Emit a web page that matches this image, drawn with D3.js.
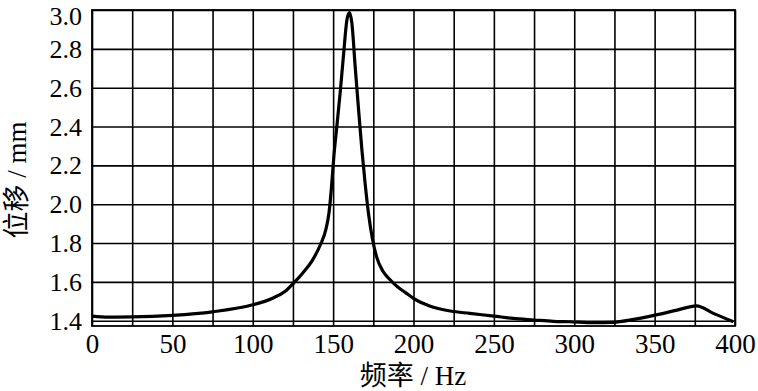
<!DOCTYPE html>
<html>
<head>
    <meta charset="utf-8">
    <script src="https://d3js.org/d3.v7.min.js"></script>
    <style>
        body { margin: 0; background: #fff; }
    </style>
</head>
<body>
    <svg width="758" height="391" id="mainSvg"></svg>
    <script>
        // frequency (Hz) and displacement (mm)
        const freq = [0, 10, 25, 50, 75, 100, 112, 120, 125, 131, 137, 142, 145.5, 147.5, 149, 150.5, 152.3, 154.4, 156.4, 158.6, 160.2,
            161.7, 163.7, 165.8, 167.9, 169.9, 172, 174.5, 177, 181, 185, 190, 195, 200, 210, 223, 235, 250, 262, 275, 287, 297,
            312, 324, 337, 351, 364, 376, 386.5, 399];
        const disp = [1.424, 1.419, 1.42, 1.428, 1.446, 1.482, 1.515, 1.55, 1.59, 1.645, 1.71, 1.79, 1.87, 1.96, 2.09, 2.25, 2.40, 2.576, 2.762, 2.95, 2.986,
            2.93, 2.71, 2.49, 2.28, 2.107, 1.952, 1.82, 1.73, 1.655, 1.615, 1.575, 1.545, 1.515, 1.476, 1.45, 1.438, 1.424, 1.412, 1.404, 1.397, 1.395,
            1.39, 1.392, 1.407, 1.43, 1.455, 1.477, 1.438, 1.395];
        const xTicks = d3.range(0, 401, 25);
        const yTicks = [1.4, 1.6, 1.8, 2.0, 2.2, 2.4, 2.6, 2.8, 3.0];

        const font = "Liberation Serif, DejaVu Serif, Noto Sans CJK SC, serif";
        const svg = d3.select("#mainSvg").style("font-family", font);
        const m = { left: 92, right: 735, top: 10, bottom: 326 };

        const x = d3.scaleLinear().domain([0, 400]).range([m.left, m.right]);
        const y = d3.scaleLinear().domain([1.373, 3.0]).range([m.bottom, m.top]);

        // vertical grid + x labels
        const xAxis = svg.append("g")
            .attr("transform", `translate(0, ${m.bottom})`)
            .call(d3.axisBottom(x).tickValues(xTicks).tickSize(-(m.bottom - m.top))
                .tickFormat(d => d % 50 === 0 ? d : ""));
        xAxis.attr("font-family", null);
        xAxis.select(".domain").remove();
        xAxis.selectAll("line").attr("stroke", "#000").attr("stroke-width", 1.6);
        xAxis.selectAll("text").style("font-family", font).attr("font-size", 27).attr("y", 27).attr("dy", 0).attr("fill", "#000");

        // horizontal grid + y labels
        const yAxis = svg.append("g")
            .attr("transform", `translate(${m.left}, 0)`)
            .call(d3.axisLeft(y).tickValues(yTicks).tickSize(-(m.right - m.left)).tickFormat(d3.format(".1f")));
        yAxis.attr("font-family", null);
        yAxis.select(".domain").remove();
        yAxis.selectAll("line").attr("stroke", "#000").attr("stroke-width", 1.6);
        yAxis.selectAll("text").style("font-family", font).attr("font-size", 26).attr("x", -10)
            .attr("dy", d => d === 3.0 ? "0.56em" : "0.33em").attr("fill", "#000");

        // frame
        svg.append("rect")
            .attr("x", m.left).attr("y", m.top)
            .attr("width", m.right - m.left).attr("height", m.bottom - m.top)
            .attr("fill", "none").attr("stroke", "#000").attr("stroke-width", 1.8);

        // curve
        const line = d3.line()
            .x((d, i) => x(freq[i]))
            .y(d => y(d))
            .curve(d3.curveMonotoneX);
        svg.append("path")
            .datum(disp)
            .attr("d", line)
            .attr("fill", "none")
            .attr("stroke", "#000")
            .attr("stroke-width", 3.2)
            .attr("stroke-linejoin", "round");

        // axis titles
        svg.append("text")
            .attr("x", 413).attr("y", 385)
            .attr("text-anchor", "middle")
            .style("font-family", font)
            .attr("font-size", 27)
            .text("频率 / Hz");
        svg.append("text")
            .attr("transform", "translate(26, 180) rotate(-90)")
            .attr("text-anchor", "middle")
            .style("font-family", font)
            .attr("font-size", 27)
            .text("位移 / mm");
    </script>
</body>
</html>
